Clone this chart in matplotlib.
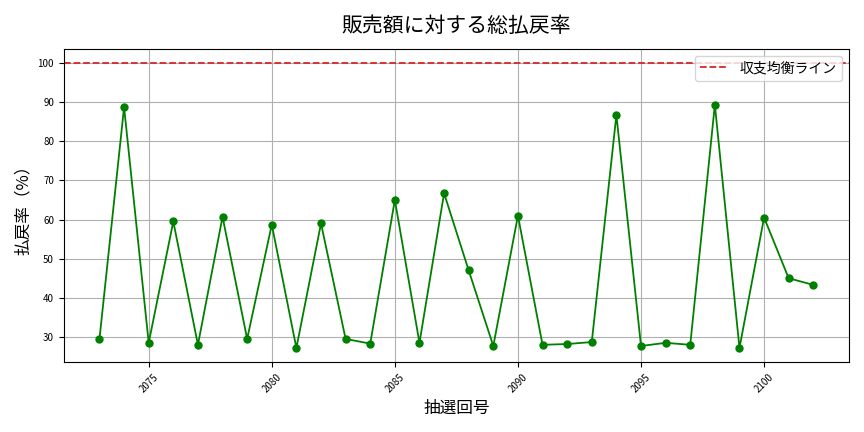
import matplotlib
matplotlib.use("Agg")
import matplotlib.pyplot as plt

plt.rcParams['font.family'] = ['Noto Sans CJK JP', 'DejaVu Sans']

draws = list(range(2073, 2103))
rates = [29.5, 88.7, 28.5, 59.5, 28.0, 60.7, 29.5, 58.7, 27.2, 59.0,
         29.5, 28.3, 65.0, 28.5, 66.7, 47.0, 27.7, 61.0, 28.0, 28.2,
         28.7, 86.7, 27.7, 28.5, 28.0, 89.3, 27.2, 60.5, 45.0, 43.3]

fig, ax = plt.subplots(figsize=(8.64, 4.32), dpi=100)
ax.plot(draws, rates, color='green', marker='o', markersize=5, linewidth=1.3)
ax.axhline(100, color='#d62728', linestyle='--', linewidth=1.3, label='収支均衡ライン')
ax.set_title('販売額に対する総払戻率', fontsize=15, pad=12)
ax.set_xlabel('抽選回号', fontsize=12)
ax.set_ylabel('払戻率（%）', fontsize=12)
ax.grid(True, color='#b0b0b0', alpha=1.0, linewidth=0.8)
ax.tick_params(axis='x', labelrotation=45, labelsize=7)
ax.tick_params(axis='y', labelsize=7)
ax.legend(loc='upper right', fontsize=10)
fig.tight_layout()
fig.savefig('out.png')
